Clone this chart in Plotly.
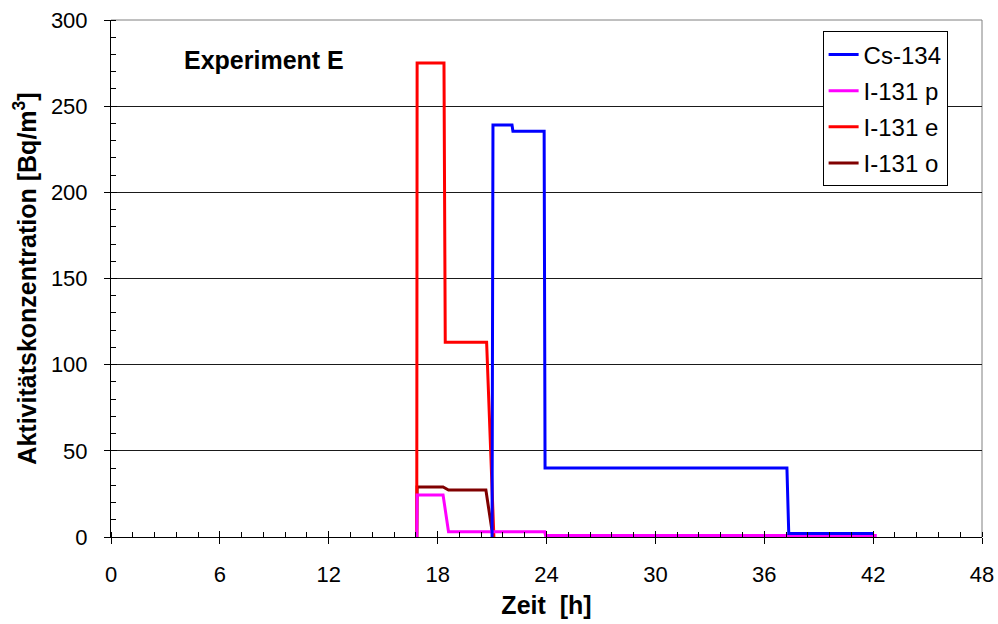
import plotly.graph_objects as go

# Messzeiten [h] und Aktivitätskonzentrationen [Bq/m3] je Nuklid
t_cs134 = [21.0, 21.05, 22.1, 22.15, 23.87, 23.92, 37.25, 37.35, 42.0]
c_cs134 = [0.0, 239.0, 239.0, 235.5, 235.5, 40.0, 40.0, 2.0, 2.0]

t_i131p = [16.85, 16.87, 18.3, 18.6, 23.9, 23.95, 42.2]
c_i131p = [0.0, 24.4, 24.4, 3.0, 3.0, 0.8, 0.8]

t_i131e = [16.85, 16.87, 18.35, 18.42, 20.7, 21.1]
c_i131e = [0.0, 275.0, 275.0, 113.0, 113.0, 0.0]

t_i131o = [16.85, 16.87, 18.3, 18.6, 20.66, 21.05]
c_i131o = [0.0, 29.0, 29.0, 27.3, 27.3, 0.0]

series = [
    ("Cs-134", t_cs134, c_cs134, "#0000FF"),
    ("I-131 p", t_i131p, c_i131p, "#FF00FF"),
    ("I-131 e", t_i131e, c_i131e, "#FF0000"),
    ("I-131 o", t_i131o, c_i131o, "#800000"),
]

x_ticks = list(range(0, 49, 6))
y_ticks = list(range(0, 301, 50))

FONT = "Arial, Liberation Sans, sans-serif"

fig = go.Figure()
# drawn in reverse so that Cs-134 ends up on top; legendrank keeps the listed order
for i, (name, t, c, col) in reversed(list(enumerate(series))):
    fig.add_trace(go.Scatter(
        x=t, y=c, mode="lines", name=name,
        legendgroup=f"g{i}", legendrank=i + 1,
        line=dict(color=col, width=3),
    ))

# inside halves of the major ticks, so that they cross the axis lines
fig.add_trace(go.Scatter(x=[None], y=[None], xaxis="x2", yaxis="y2",
                         showlegend=False, hoverinfo="skip"))

fig.update_layout(
    width=998, height=624,
    margin=dict(l=111, r=16, t=20, b=87, autoexpand=False),
    paper_bgcolor="white", plot_bgcolor="white",
    font=dict(family=FONT, size=22, color="black"),
    showlegend=True,
    legend=dict(
        x=0.817, y=0.978, xanchor="left", yanchor="top",
        bordercolor="black", borderwidth=1, bgcolor="white",
        font=dict(family=FONT, size=24),
        traceorder="grouped",
        itemwidth=30, tracegroupgap=2,
    ),
    xaxis=dict(
        range=[0, 48], tickvals=x_ticks, ticktext=[str(v) for v in x_ticks],
        showgrid=False, zeroline=False, automargin=False,
        showline=True, linecolor="black", linewidth=1,
        ticks="outside", ticklen=6, tickcolor="black",
        ticklabelstandoff=12,
        minor=dict(dtick=1.2, tick0=0, ticks="inside", ticklen=5, tickcolor="black", showgrid=False),
        title=dict(text="<b>Zeit  [h]</b>", font=dict(family=FONT, size=25), standoff=10),
        tickfont=dict(family=FONT, size=22),
    ),
    yaxis=dict(
        range=[0, 300], tickvals=y_ticks,
        showgrid=True, gridcolor="#1a1a1a", gridwidth=1,
        zeroline=False, automargin=False,
        showline=True, linecolor="black", linewidth=1,
        ticks="outside", ticklen=6, tickcolor="black",
        ticklabelstandoff=12,
        minor=dict(dtick=10, ticks="inside", ticklen=5, tickcolor="black", showgrid=False),
        title=dict(text="<b>Aktivitätskonzentration [Bq/m<sup>3</sup>]</b>",
                   font=dict(family=FONT, size=25), standoff=7),
        tickfont=dict(family=FONT, size=22),
    ),
    xaxis2=dict(
        range=[0, 48], tickvals=x_ticks, overlaying="x", anchor="y", side="bottom",
        showgrid=False, zeroline=False, showticklabels=False, showline=False,
        ticks="inside", ticklen=6, tickcolor="black",
    ),
    yaxis2=dict(
        range=[0, 300], tickvals=y_ticks, overlaying="y", anchor="x", side="left",
        showgrid=False, zeroline=False, showticklabels=False, showline=False,
        ticks="inside", ticklen=6, tickcolor="black",
    ),
    shapes=[
        # grey frame of the plot area on top and right
        dict(type="line", xref="paper", yref="paper", x0=0, x1=1, y0=1, y1=1,
             line=dict(color="#808080", width=1), layer="below"),
        dict(type="line", xref="paper", yref="paper", x0=1, x1=1, y0=0, y1=1,
             line=dict(color="#808080", width=1), layer="below"),
    ],
    annotations=[dict(
        x=0.0815, y=0.923, xref="paper", yref="paper",
        xanchor="left", yanchor="middle", showarrow=False,
        text="<b>Experiment E</b>", font=dict(family=FONT, size=25),
    )],
)

fig.write_html("out.html")
